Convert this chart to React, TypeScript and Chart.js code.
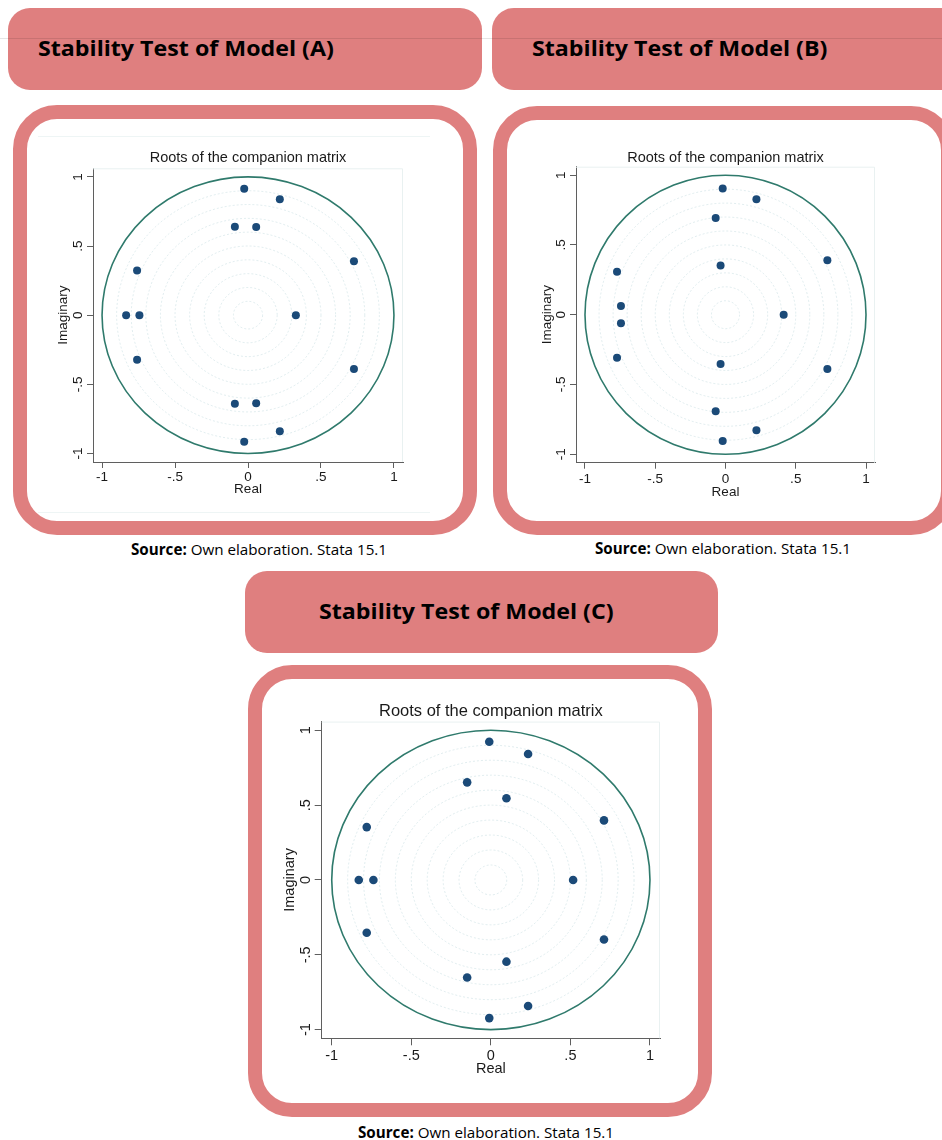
import React, { useEffect, useRef } from 'react';
import { Chart, registerables } from 'chart.js';

Chart.register(...registerables);

// ---------- data ----------
const TICK_VALUES = [-1, -0.5, 0, 0.5, 1];
const TICK_LABELS = ['-1', '-.5', '0', '.5', '1'];
const GRID_RADII = [0.1, 0.2, 0.3, 0.4, 0.5, 0.6, 0.7, 0.8, 0.9];
const UNIT_RADIUS = 1;

const CHART_TITLE = 'Roots of the companion matrix';
const X_TITLE = 'Real';
const Y_TITLE = 'Imaginary';

const realA = [-0.026, -0.026, 0.218, 0.218, -0.09, -0.09, 0.056, 0.056, 0.726, 0.726, -0.76, -0.76, -0.835, -0.744, 0.328];
const imagA = [0.915, -0.915, 0.839, -0.839, 0.64, -0.64, 0.637, -0.637, 0.39, -0.39, 0.323, -0.323, 0, 0, 0];

const realB = [-0.02, -0.02, 0.22, 0.22, -0.07, -0.07, 0.725, 0.725, -0.035, -0.035, -0.772, -0.772, -0.744, -0.744, 0.414];
const imagB = [0.905, -0.905, 0.828, -0.828, 0.693, -0.693, 0.39, -0.39, 0.353, -0.353, 0.308, -0.308, 0.062, -0.062, 0];

const realC = [-0.01, -0.01, 0.234, 0.234, -0.149, -0.149, 0.098, 0.098, 0.711, 0.711, -0.78, -0.78, -0.83, -0.738, 0.517];
const imagC = [0.923, -0.923, 0.842, -0.842, 0.652, -0.652, 0.546, -0.546, 0.398, -0.398, 0.353, -0.353, 0, 0, 0];

const HEADER_A = 'Stability Test of Model (A)';
const HEADER_B = 'Stability Test of Model (B)';
const HEADER_C = 'Stability Test of Model (C)';
const SOURCE_BOLD = 'Source:';
const SOURCE_TEXT = ' Own elaboration. Stata 15.1';

// ---------- styles ----------
const SALMON = '#df7f7f';
const POINT_COLOR = '#1b4a78';
const CIRCLE_COLOR = '#2f7a6c';
const GRID_CIRCLE_COLOR = 'rgba(175,208,212,0.38)';
const AXIS_COLOR = '#5f5f5f';
const TEXT_COLOR = '#1a1a1a';
const CHART_FONT = '"Liberation Sans", Arial, sans-serif';
const PAGE_FONT = '"Open Sans", "Noto Sans", sans-serif';

type Spec = {
  real: number[];
  imag: number[];
  left: number;
  top: number;
  width: number;
  height: number;
  yAxisWidth: number;
  xAxisHeight: number;
  padRight: number;
  titleSize: number;
  titlePadTop: number;
  titlePadBottom: number;
  tickSize: number;
  tickLen: number;
  xTickPad: number;
  yTickPad: number;
  axisTitleSize: number;
  xTitlePadBottom: number;
  yTitlePadTop: number;
  xMax: number;
  yMax: number;
  pointRadius: number;
};

const circlesPlugin = {
  id: 'companionCircles',
  beforeDatasetsDraw(chart: any) {
    const { ctx, chartArea, scales } = chart;
    const xs = scales.x;
    const ys = scales.y;
    const cx = xs.getPixelForValue(0);
    const cy = ys.getPixelForValue(0);
    ctx.save();
    // faint plot-region edges (top & right)
    ctx.strokeStyle = '#e9f1f1';
    ctx.lineWidth = 1;
    ctx.beginPath();
    ctx.moveTo(chartArea.left, chartArea.top + 0.5);
    ctx.lineTo(chartArea.right - 0.5, chartArea.top + 0.5);
    ctx.lineTo(chartArea.right - 0.5, chartArea.bottom);
    ctx.stroke();
    // concentric grid circles
    ctx.strokeStyle = GRID_CIRCLE_COLOR;
    ctx.lineWidth = 1;
    ctx.setLineDash([2, 2]);
    GRID_RADII.forEach((r) => {
      const rx = xs.getPixelForValue(r) - cx;
      const ry = cy - ys.getPixelForValue(r);
      ctx.beginPath();
      ctx.ellipse(cx, cy, rx, ry, 0, 0, Math.PI * 2);
      ctx.stroke();
    });
    // unit circle
    ctx.setLineDash([]);
    ctx.strokeStyle = CIRCLE_COLOR;
    ctx.lineWidth = 1.6;
    const rx = xs.getPixelForValue(UNIT_RADIUS) - cx;
    const ry = cy - ys.getPixelForValue(UNIT_RADIUS);
    ctx.beginPath();
    ctx.ellipse(cx, cy, rx, ry, 0, 0, Math.PI * 2);
    ctx.stroke();
    ctx.restore();
  },
};

function RootsChart({ spec }: { spec: Spec }) {
  const ref = useRef<HTMLCanvasElement | null>(null);
  useEffect(() => {
    if (!ref.current) return;
    const tickFont = { family: CHART_FONT, size: spec.tickSize };
    const axisTitleFont = { family: CHART_FONT, size: spec.axisTitleSize };
    const chart = new Chart(ref.current, {
      type: 'scatter',
      data: {
        datasets: [
          {
            data: spec.real.map((x, i) => ({ x, y: spec.imag[i] })),
            backgroundColor: POINT_COLOR,
            borderWidth: 0,
            pointRadius: spec.pointRadius,
          },
        ],
      },
      options: {
        responsive: false,
        animation: false,
        devicePixelRatio: 1,
        layout: { padding: { left: 0, right: spec.padRight, top: 0, bottom: 0 } },
        plugins: {
          legend: { display: false },
          tooltip: { enabled: false },
          title: {
            display: true,
            fullSize: false,
            text: CHART_TITLE,
            color: TEXT_COLOR,
            font: { family: CHART_FONT, size: spec.titleSize, weight: 'normal' },
            padding: { top: spec.titlePadTop, bottom: spec.titlePadBottom },
          },
        },
        scales: {
          x: {
            type: 'linear',
            min: -spec.xMax,
            max: spec.xMax,
            afterBuildTicks: (s: any) => {
              s.ticks = TICK_VALUES.map((v) => ({ value: v }));
            },
            afterFit: (s: any) => {
              s.height = spec.xAxisHeight;
            },
            grid: { display: true, drawOnChartArea: false, drawTicks: true, tickLength: spec.tickLen, tickColor: AXIS_COLOR, tickWidth: 1 },
            border: { display: true, color: AXIS_COLOR, width: 1 },
            ticks: {
              autoSkip: false,
              maxRotation: 0,
              minRotation: 0,
              padding: spec.xTickPad,
              color: TEXT_COLOR,
              font: tickFont,
              callback: (_v: any, i: number) => TICK_LABELS[i],
            },
            title: {
              display: true,
              text: X_TITLE,
              color: TEXT_COLOR,
              font: axisTitleFont,
              padding: { top: 0, bottom: spec.xTitlePadBottom },
            },
          },
          y: {
            type: 'linear',
            min: -spec.yMax,
            max: spec.yMax,
            afterBuildTicks: (s: any) => {
              s.ticks = TICK_VALUES.map((v) => ({ value: v }));
            },
            afterFit: (s: any) => {
              s.width = spec.yAxisWidth;
            },
            grid: { display: true, drawOnChartArea: false, drawTicks: true, tickLength: spec.tickLen, tickColor: AXIS_COLOR, tickWidth: 1 },
            border: { display: true, color: AXIS_COLOR, width: 1 },
            ticks: {
              autoSkip: false,
              minRotation: 90,
              maxRotation: 90,
              crossAlign: 'center',
              padding: spec.yTickPad,
              color: TEXT_COLOR,
              font: tickFont,
              callback: (_v: any, i: number) => TICK_LABELS[i],
            },
            title: {
              display: true,
              text: Y_TITLE,
              color: TEXT_COLOR,
              font: axisTitleFont,
              padding: { top: spec.yTitlePadTop, bottom: 0 },
            },
          },
        },
      },
      plugins: [circlesPlugin],
    } as any);
    return () => chart.destroy();
  }, [spec]);
  return (
    <canvas
      ref={ref}
      width={spec.width}
      height={spec.height}
      style={{ position: 'absolute', left: spec.left, top: spec.top, width: spec.width, height: spec.height }}
    />
  );
}

const specA: Spec = {
  real: realA, imag: imagA,
  left: 44, top: 144, width: 368, height: 356,
  yAxisWidth: 49, xAxisHeight: 38, padRight: 9,
  titleSize: 14.5, titlePadTop: 5.2, titlePadBottom: 1.7,
  tickSize: 13.5, tickLen: 6, xTickPad: 1.6, yTickPad: 1.2,
  axisTitleSize: 13.5, xTitlePadBottom: 2.2, yTitlePadTop: 11.5,
  xMax: 1.062, yMax: 1.062, pointRadius: 4,
};

const specB: Spec = {
  real: realB, imag: imagB,
  left: 527, top: 144, width: 357, height: 359,
  yAxisWidth: 49, xAxisHeight: 40.3, padRight: 9,
  titleSize: 14.5, titlePadTop: 4.8, titlePadBottom: 0.5,
  tickSize: 13.5, tickLen: 6, xTickPad: 2.3, yTickPad: 0.6,
  axisTitleSize: 13.5, xTitlePadBottom: 2.4, yTitlePadTop: 12.3,
  xMax: 1.064, yMax: 1.061, pointRadius: 4,
};

const specC: Spec = {
  real: realC, imag: imagC,
  left: 275, top: 690, width: 395, height: 392,
  yAxisWidth: 46.7, xAxisHeight: 43.7, padRight: 10,
  titleSize: 16.5, titlePadTop: 11.5, titlePadBottom: 0.3,
  tickSize: 14.5, tickLen: 7, xTickPad: 1.6, yTickPad: 0.2,
  axisTitleSize: 14.5, xTitlePadBottom: 4, yTitlePadTop: 6.3,
  xMax: 1.063, yMax: 1.058, pointRadius: 4.3,
};

function Header({ left, top, width, text, textLeft }: { left: number; top: number; width: number; text: string; textLeft: number }) {
  return (
    <div
      style={{
        position: 'absolute', left, top, width, height: 82, background: SALMON, borderRadius: 22,
        boxSizing: 'border-box',
      }}
    >
      <div
        style={{
          position: 'absolute', left: textLeft, top: 0, height: 82, lineHeight: '82px',
          fontFamily: PAGE_FONT, fontWeight: 700, fontSize: 21, color: '#000', whiteSpace: 'nowrap',
          marginTop: -1, transform: 'scaleX(1.105)', transformOrigin: 'left center',
        }}
      >
        {text}
      </div>
    </div>
  );
}

function Panel({ left, top, width, height }: { left: number; top: number; width: number; height: number }) {
  return (
    <div
      style={{
        position: 'absolute', left, top, width, height, boxSizing: 'border-box',
        border: `14px solid ${SALMON}`, borderRadius: 44, background: '#fff',
      }}
    />
  );
}

function Source({ cx, cy }: { cx: number; cy: number }) {
  return (
    <div
      style={{
        position: 'absolute', left: cx, top: cy, transform: 'translate(-50%, -50%)',
        fontFamily: PAGE_FONT, fontSize: 15.2, color: '#000', whiteSpace: 'nowrap', lineHeight: '20px',
      }}
    >
      <b>{SOURCE_BOLD}</b>
      {SOURCE_TEXT}
    </div>
  );
}

export default function App() {
  return (
    <div
      style={{
        position: 'absolute', left: 0, top: 0, width: 942, height: 1140, overflow: 'hidden', background: '#fff',
      }}
    >
      <Header left={8} top={7.5} width={474} text={HEADER_A} textLeft={30} />
      <Header left={492} top={7.5} width={470} text={HEADER_B} textLeft={40} />
      <div style={{ position: 'absolute', left: 0, top: 38, width: 942, height: 1, background: 'rgba(0,0,0,0.10)' }} />

      <Panel left={12.5} top={105} width={464} height={430} />
      <Panel left={492.5} top={106} width={462} height={429} />
      {/* faint Stata graph-region edges in panel A */}
      <div style={{ position: 'absolute', left: 38, top: 136, width: 392, height: 1, background: '#eef5f5' }} />
      <div style={{ position: 'absolute', left: 38, top: 512, width: 392, height: 1, background: '#eef5f5' }} />

      <RootsChart spec={specA} />
      <RootsChart spec={specB} />

      <Source cx={259} cy={549} />
      <Source cx={723} cy={548} />

      <Header left={245} top={571} width={473} text={HEADER_C} textLeft={74} />
      <Panel left={248} top={665} width={464} height={452} />
      <RootsChart spec={specC} />
      <Source cx={486} cy={1131.5} />
    </div>
  );
}
